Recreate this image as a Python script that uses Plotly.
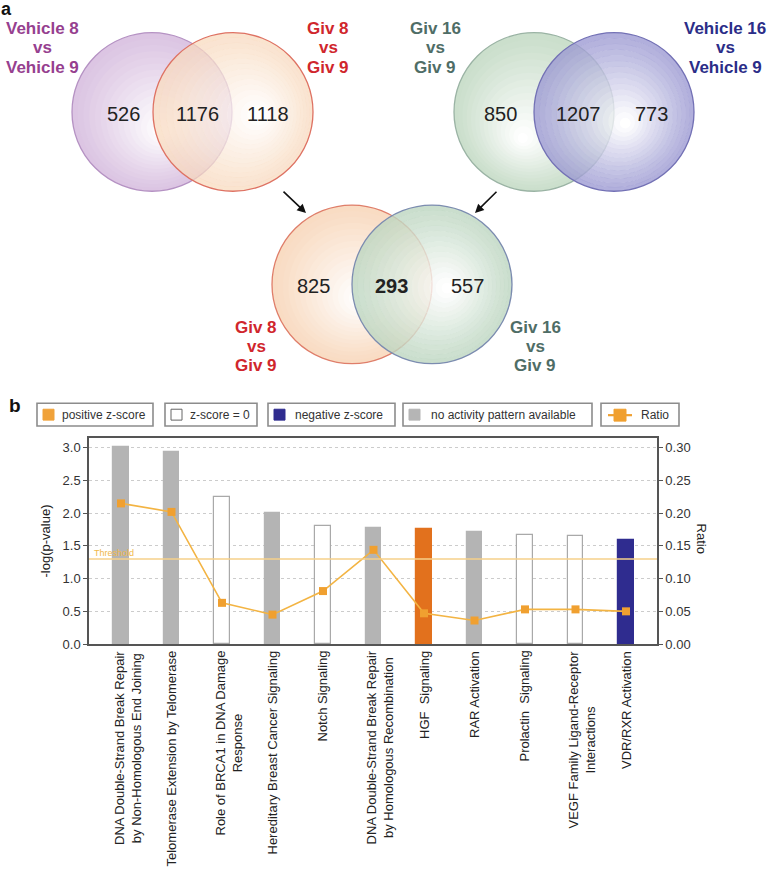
import numpy as np
import plotly.graph_objects as go

# ------------------------------------------------------------------ #
# data
# ------------------------------------------------------------------ #
# panel a: Venn counts (left only, overlap, right only)
venn_top_left = [526, 1176, 1118]
venn_top_right = [850, 1207, 773]
venn_bottom = [825, 293, 557]

# panel b: IPA canonical pathways
pathways = [
    "DNA Double-Strand Break Repair<br>by Non-Homologous End Joining",
    "Telomerase Extension by Telomerase",
    "Role of BRCA1 in DNA Damage<br>Response",
    "Hereditary Breast Cancer Signaling",
    "Notch Signaling",
    "DNA Double-Strand Break Repair<br>by Homologous Recombination",
    "HGF&nbsp; Signaling",
    "RAR Activation",
    "Prolactin&nbsp; Signaling",
    "VEGF Family Ligand-Receptor<br>Interactions",
    "VDR/RXR Activation",
]
neg_log_p = [3.02, 2.93, 2.25, 2.01, 1.80, 1.78, 1.76, 1.72, 1.67, 1.65, 1.59]
ratio = [0.215, 0.202, 0.063, 0.045, 0.081, 0.144, 0.047, 0.036, 0.053, 0.053, 0.050]
zscore_class = ["none", "none", "zero", "none", "zero", "none", "pos", "none", "zero", "zero", "neg"]
threshold = 1.3

legend_items = ["positive z-score", "z-score = 0", "negative z-score",
                "no activity pattern available", "Ratio"]

# ------------------------------------------------------------------ #
# helpers
# ------------------------------------------------------------------ #
W, H = 770, 875
FONT = "Liberation Sans, Arial, sans-serif"


def px(x, y):
    # pixel position -> paper coords (margins are zero)
    return x / W, 1 - y / H


def hex2rgb(h):
    h = h.lstrip("#")
    return [int(h[i:i + 2], 16) for i in (0, 2, 4)]


def mix_white(h, f):
    r, g, b = hex2rgb(h)
    return "rgb(%d,%d,%d)" % (r + (255 - r) * f, g + (255 - g) * f, b + (255 - b) * f)


def poly(x, y, r, n=96):
    th = np.linspace(0, 2 * np.pi, n, endpoint=False)
    pts = ["%.2f,%.2f" % (x + r * np.cos(t), y + r * np.sin(t)) for t in th]
    return "M" + " L".join(pts) + " Z"


def venn_circle(shapes, cx, cy, r, edge, outline, off, alpha, nring=16):
    # radial gradient faked with nested discs (opaque) or rings (see-through)
    for k in range(nring):
        t0, t1 = k / nring, (k + 1) / nring
        x0, y0 = cx + off[0] * r * t0, cy + off[1] * r * t0
        x1, y1 = cx + off[0] * r * t1, cy + off[1] * r * t1
        r_out = r * (1 - t0)
        if alpha < 1 and k > 0:
            r_out += 0.35  # tiny overlap hides the anti-alias seam between rings
        path = poly(x0, y0, r_out)
        if alpha < 1 and k < nring - 1:
            path += " " + poly(x1, y1, r * (1 - t1))
        f = min(1.0, 1.1 * t0 ** 1.1)
        shapes.append(dict(type="path", xref="x2", yref="y2", path=path,
                           fillcolor=mix_white(edge, f), fillrule="evenodd",
                           line=dict(width=0), opacity=alpha, layer="below"))
    shapes.append(dict(type="circle", xref="x2", yref="y2",
                       x0=cx - r, x1=cx + r, y0=cy - r, y1=cy + r,
                       line=dict(color=outline, width=1.3), layer="below"))


shapes = []
annotations = []

# ------------------------------------------------------------------ #
# panel a
# ------------------------------------------------------------------ #
R = 80
venn_circle(shapes, 152, 113, R, "#dcc5e3", "#b592c3", (0.15, 0.25), 1.0)
venn_circle(shapes, 233, 113, R, "#f8d9bd", "#de7263", (0.35, 0.05), 0.72)
venn_circle(shapes, 534, 113, R, "#cbdfcc", "#9ab3a4", (-0.15, 0.35), 1.0)
venn_circle(shapes, 614, 113, R, "#9b99d2", "#7371b5", (0.15, 0.15), 0.78)
venn_circle(shapes, 352, 287, R, "#f9dcc3", "#df7e6a", (0.1, 0.2), 1.0)
venn_circle(shapes, 432, 287, R, "#bdd6c1", "#7c8cb0", (0.2, 0.05), 0.8)


def venn_numbers(vals, xs, y, bold_mid=False):
    for i, (v, x) in enumerate(zip(vals, xs)):
        txt = "<b>%d</b>" % v if (bold_mid and i == 1) else str(v)
        annotations.append(dict(x=x, y=y, xref="x2", yref="y2", text=txt, showarrow=False,
                                font=dict(size=20, color="#222222", family=FONT)))


venn_numbers(venn_top_left, [123, 197, 268], 115)
venn_numbers(venn_top_right, [500, 578, 651], 115)
venn_numbers(venn_bottom, [313, 391, 467], 289, bold_mid=True)


def group_label(lines, x, ys, color):
    for t, y in zip(lines, ys):
        annotations.append(dict(x=x, y=y, xref="x2", yref="y2", text="<b>%s</b>" % t,
                                showarrow=False,
                                font=dict(size=17, color=color, family=FONT)))


group_label(["Vehicle 8", "vs", "Vehicle 9"], 42, [29, 48, 68], "#96408f")
group_label(["Giv 8", "vs", "Giv 9"], 328, [29, 48, 68], "#d0262c")
group_label(["Giv 16", "vs", "Giv 9"], 435, [29, 48, 68], "#4f6d66")
group_label(["Vehicle 16", "vs", "Vehicle 9"], 725, [29, 48, 68], "#2b2d88")
group_label(["Giv 8", "vs", "Giv 9"], 256, [331, 350, 369], "#d0262c")
group_label(["Giv 16", "vs", "Giv 9"], 535, [331, 350, 369], "#4f6d66")

for (xs, ys, xe, ye) in [(282, 192, 306, 215), (498, 192, 475, 215)]:
    annotations.append(dict(x=xe, y=ye, ax=xs, ay=ys, xref="x2", yref="y2",
                            axref="x2", ayref="y2", text="", showarrow=True,
                            arrowhead=2, arrowsize=1.1, arrowwidth=1.6, arrowcolor="#111"))

# panel letters
annotations.append(dict(x=0, y=1, xref="paper", yref="paper", text="<b>a</b>",
                        xanchor="left", yanchor="top", yshift=2, borderpad=0,
                        showarrow=False, font=dict(size=18, color="#111", family=FONT)))
annotations.append(dict(x=px(7, 0)[0], y=px(0, 409)[1], xref="paper", yref="paper", text="<b>b</b>",
                        showarrow=False, font=dict(size=19, color="#111", family=FONT)))

# ------------------------------------------------------------------ #
# panel b legend boxes
# ------------------------------------------------------------------ #
boxes = [(37, 153), (165, 257), (268, 395), (403, 592), (601, 679)]
swatch = [("#f0a23a", "#f0a23a"), ("#ffffff", "#666666"), ("#2f2c8f", "#2f2c8f"),
          ("#b5b5b5", "#b5b5b5"), None]
text_x = [60, 188, 293, 429, 639]
ly0, ly1, lyc = 407, 430, 419
for (bx0, bx1), sw, tx, label in zip(boxes, swatch, text_x, legend_items):
    a, b = px(bx0, ly0), px(bx1, ly1)
    shapes.append(dict(type="rect", xref="paper", yref="paper", x0=a[0], x1=b[0], y0=b[1], y1=a[1],
                       line=dict(color="#8c8c8c", width=1.6), fillcolor="white"))
    if sw is not None:
        s0, s1 = px(bx0 + 6, lyc - 6), px(bx0 + 17, lyc + 5)
        shapes.append(dict(type="rect", xref="paper", yref="paper", x0=s0[0], x1=s1[0], y0=s1[1], y1=s0[1],
                           line=dict(color=sw[1], width=1), fillcolor=sw[0]))
    else:
        l0, l1 = px(bx0 + 7, lyc), px(bx0 + 31, lyc)
        shapes.append(dict(type="line", xref="paper", yref="paper", x0=l0[0], x1=l1[0], y0=l0[1], y1=l1[1],
                           line=dict(color="#f0a030", width=2.2)))
        s0, s1 = px(bx0 + 13, lyc - 6), px(bx0 + 25, lyc + 6)
        shapes.append(dict(type="rect", xref="paper", yref="paper", x0=s0[0], x1=s1[0], y0=s1[1], y1=s0[1],
                           line=dict(color="#f0a030", width=1), fillcolor="#f0a030"))
    p = px(tx, lyc)
    annotations.append(dict(x=p[0], y=p[1], xref="paper", yref="paper", xanchor="left", text=label,
                            showarrow=False, font=dict(size=12, color="#333333", family=FONT)))

# ------------------------------------------------------------------ #
# panel b chart
# ------------------------------------------------------------------ #
bar_fill = {"none": "#b4b4b4", "zero": "#ffffff", "pos": "#e2711d", "neg": "#2f2c8f"}
bar_line = {"none": "#b4b4b4", "zero": "#a9a9a9", "pos": "#e2711d", "neg": "#2f2c8f"}
x_idx = list(range(len(pathways)))

fig = go.Figure()
fig.add_trace(go.Bar(x=x_idx, y=neg_log_p, width=0.3, xaxis="x", yaxis="y",
                     marker=dict(color=[bar_fill[c] for c in zscore_class],
                                 line=dict(color=[bar_line[c] for c in zscore_class], width=1.2)),
                     showlegend=False))
fig.add_trace(go.Scatter(x=x_idx, y=ratio, xaxis="x", yaxis="y3", mode="lines+markers",
                         line=dict(color="#f3b443", width=1.6),
                         marker=dict(symbol="square", size=8, color="#f0a030"),
                         showlegend=False))

# rotated category labels, centred per line like the original
lab_y = px(0, 655)[1]
for i, lab in zip(x_idx, pathways):
    annotations.append(dict(x=i, y=lab_y, xref="x", yref="paper", text=lab, textangle=-90,
                            xanchor="center", yanchor="top", align="center", showarrow=False,
                            xshift=7 if "<br>" in lab else 0,
                            font=dict(size=13, color="#222222", family=FONT)))

shapes.append(dict(type="line", xref="x domain", yref="y", x0=0, x1=1, y0=threshold, y1=threshold,
                   line=dict(color="#f6d08a", width=1.5)))
p = px(92, 558)
annotations.append(dict(x=p[0], y=p[1], xref="paper", yref="paper", xanchor="left", text="Threshold",
                        showarrow=False, font=dict(size=9, color="#f0b84a", family=FONT)))
p = px(36, 546)
annotations.append(dict(x=p[0], y=p[1], xref="paper", yref="paper", text="-log(p-value)", textangle=-90,
                        showarrow=False, font=dict(size=13, color="#222", family=FONT)))
p = px(711, 543)
annotations.append(dict(x=p[0], y=p[1], xref="paper", yref="paper", text="Ratio", textangle=90,
                        showarrow=False, font=dict(size=13, color="#222", family=FONT)))

ybot, ytop = 1 - 650 / H, 1 - 442 / H
x_left, x_right = 89, 657
x_range = [-(121 - x_left) / 50.5, 10 + (x_right - 626) / 50.5]
axis_common = dict(showline=True, linecolor="#555555", linewidth=1.5,
                   tickfont=dict(size=13, color="#333333", family=FONT))

fig.update_layout(
    width=W, height=H,
    margin=dict(l=0, r=0, t=0, b=0, pad=0),
    paper_bgcolor="white", plot_bgcolor="rgba(0,0,0,0)",
    font=dict(family=FONT),
    shapes=shapes, annotations=annotations,
    bargap=0,
    xaxis=dict(domain=[x_left / W, x_right / W], range=x_range, anchor="y",
               tickmode="array", tickvals=x_idx, showticklabels=False,
               mirror=True, showgrid=False, ticks="", zeroline=False, **axis_common),
    yaxis=dict(domain=[ybot, ytop], range=[0, 3.15], anchor="x", dtick=0.5, tickformat=".1f",
               ticks="outside", ticklen=4, tickcolor="#555", showgrid=True,
               gridcolor="#cccccc", griddash="dot", gridwidth=1, zeroline=False, **axis_common),
    yaxis3=dict(overlaying="y", side="right", anchor="x", range=[0, 0.315], dtick=0.05,
                tickformat=".2f", ticks="outside", ticklen=4, tickcolor="#555",
                showgrid=False, zeroline=False, **axis_common),
    xaxis2=dict(domain=[0, 1], range=[0, W], anchor="y2", visible=False, fixedrange=True),
    yaxis2=dict(domain=[1 - 400 / H, 1], range=[400, 0], anchor="x2", visible=False, fixedrange=True),
)

# page body has a default 8px margin; drop it so the figure fills the window exactly
page_js = ("document.body.style.margin='0';"
           "document.documentElement.style.overflow='hidden';"
           "document.body.style.overflow='hidden';")
fig.write_html("out.html", post_script=page_js, config={"displayModeBar": False})
